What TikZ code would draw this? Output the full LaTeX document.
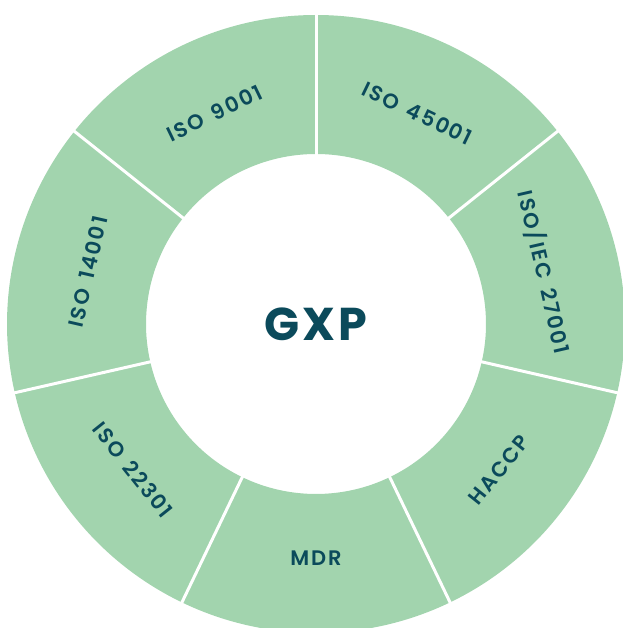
\documentclass[tikz,border=0pt]{standalone}
\usepackage{fontspec}
\setmainfont{Poppins}
\newfontfamily\labelfont{Poppins SemiBold}[LetterSpace=9, WordSpace=1.5]
\newfontfamily\gxpfont{Poppins}[LetterSpace=6]
\usetikzlibrary{positioning}
\definecolor{ringGreen}{HTML}{A2D4AE}
\definecolor{inkTeal}{HTML}{0B4A5B}

\begin{document}
\begin{tikzpicture}[x=1pt,y=1pt]
\useasboundingbox (-316,-304) rectangle (306,324);
% ring sectors, clockwise from the top
\foreach \i/\l/\r in {0/ISO 45001/-25.71, 1/{ISO/IEC 27001}/-77.14, 2/HACCP/51.43, 3/MDR/0, 4/ISO 22301/-51.43, 5/ISO 14001/77.14, 6/ISO 9001/25.71} {
  \pgfmathsetmacro\s{90-\i*360/7}
  \pgfmathsetmacro\e{90-(\i+1)*360/7}
  \pgfmathsetmacro\m{90-(\i+0.5)*360/7}
  \fill[ringGreen] (\s:170) arc[start angle=\s, end angle=\e, radius=170] -- (\e:309) arc[start angle=\e, end angle=\s, radius=309] -- cycle;
  \node[text=inkTeal, rotate=\r, font=\fontsize{21}{23}\selectfont\labelfont] (sec\i) at (\m:234) {\l};
}
% white gaps between the sectors
\foreach \i in {0,...,6} {
  \draw[white, line width=3pt] ({90-\i*360/7}:165) -- ({90-\i*360/7}:315);
}
\node[text=inkTeal, font=\fontsize{46}{50}\selectfont\gxpfont\bfseries] (gxp) at (0,0) {GXP};
\end{tikzpicture}
\end{document}
